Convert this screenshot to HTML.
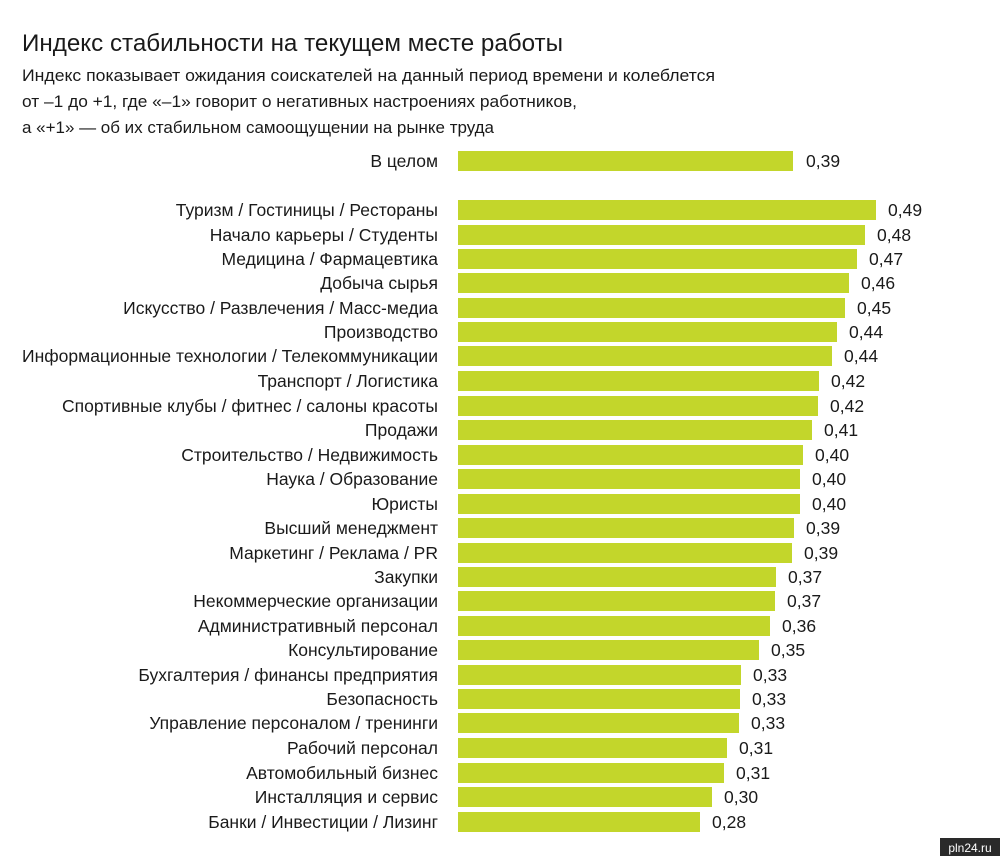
<!DOCTYPE html>
<html><head><meta charset="utf-8"><style>
body{margin:0;background:#fff;}
svg{display:block;font-family:"Liberation Sans","DejaVu Sans",sans-serif;}
.l{text-anchor:end;}
</style></head><body>
<svg width="1000" height="856" viewBox="0 0 1000 856">
<rect width="1000" height="856" fill="#fff"/>
<g fill="#1a1a1a">
<text x="22" y="51" font-size="24" textLength="541" lengthAdjust="spacingAndGlyphs">Индекс стабильности на текущем месте работы</text>
<text x="22" y="81" font-size="16.5" textLength="693" lengthAdjust="spacingAndGlyphs">Индекс показывает ожидания соискателей на данный период времени и колеблется</text>
<text x="22" y="107" font-size="16.5" textLength="555" lengthAdjust="spacingAndGlyphs">от –1 до +1, где «–1» говорит о негативных настроениях работников,</text>
<text x="22" y="133" font-size="16.5" textLength="472" lengthAdjust="spacingAndGlyphs">а «+1» — об их стабильном самоощущении на рынке труда</text>
</g>
<g fill="#c3d62b">
<rect x="458" y="151" width="335" height="20"/>
<rect x="458" y="200" width="418" height="20"/>
<rect x="458" y="225" width="407" height="20"/>
<rect x="458" y="249" width="399" height="20"/>
<rect x="458" y="273" width="391" height="20"/>
<rect x="458" y="298" width="387" height="20"/>
<rect x="458" y="322" width="379" height="20"/>
<rect x="458" y="346" width="374" height="20"/>
<rect x="458" y="371" width="361" height="20"/>
<rect x="458" y="396" width="360" height="20"/>
<rect x="458" y="420" width="354" height="20"/>
<rect x="458" y="445" width="345" height="20"/>
<rect x="458" y="469" width="342" height="20"/>
<rect x="458" y="494" width="342" height="20"/>
<rect x="458" y="518" width="336" height="20"/>
<rect x="458" y="543" width="334" height="20"/>
<rect x="458" y="567" width="318" height="20"/>
<rect x="458" y="591" width="317" height="20"/>
<rect x="458" y="616" width="312" height="20"/>
<rect x="458" y="640" width="301" height="20"/>
<rect x="458" y="665" width="283" height="20"/>
<rect x="458" y="689" width="282" height="20"/>
<rect x="458" y="713" width="281" height="20"/>
<rect x="458" y="738" width="269" height="20"/>
<rect x="458" y="763" width="266" height="20"/>
<rect x="458" y="787" width="254" height="20"/>
<rect x="458" y="812" width="242" height="20"/>
</g>
<g font-size="17.5" fill="#1a1a1a">
<text class="l" x="438" y="167">В целом</text>
<text class="l" x="438" y="216">Туризм / Гостиницы / Рестораны</text>
<text class="l" x="438" y="241">Начало карьеры / Студенты</text>
<text class="l" x="438" y="265">Медицина / Фармацевтика</text>
<text class="l" x="438" y="289">Добыча сырья</text>
<text class="l" x="438" y="314">Искусство / Развлечения / Масс-медиа</text>
<text class="l" x="438" y="338">Производство</text>
<text class="l" x="438" y="362" textLength="416" lengthAdjust="spacingAndGlyphs">Информационные технологии / Телекоммуникации</text>
<text class="l" x="438" y="387">Транспорт / Логистика</text>
<text class="l" x="438" y="412">Спортивные клубы / фитнес / салоны красоты</text>
<text class="l" x="438" y="436">Продажи</text>
<text class="l" x="438" y="461">Строительство / Недвижимость</text>
<text class="l" x="438" y="485">Наука / Образование</text>
<text class="l" x="438" y="510">Юристы</text>
<text class="l" x="438" y="534">Высший менеджмент</text>
<text class="l" x="438" y="559">Маркетинг / Реклама / PR</text>
<text class="l" x="438" y="583">Закупки</text>
<text class="l" x="438" y="607">Некоммерческие организации</text>
<text class="l" x="438" y="632">Административный персонал</text>
<text class="l" x="438" y="656">Консультирование</text>
<text class="l" x="438" y="681">Бухгалтерия / финансы предприятия</text>
<text class="l" x="438" y="705">Безопасность</text>
<text class="l" x="438" y="729">Управление персоналом / тренинги</text>
<text class="l" x="438" y="754">Рабочий персонал</text>
<text class="l" x="438" y="779">Автомобильный бизнес</text>
<text class="l" x="438" y="803">Инсталляция и сервис</text>
<text class="l" x="438" y="828">Банки / Инвестиции / Лизинг</text>
</g>
<g font-size="17.5" fill="#1a1a1a">
<text x="806" y="167">0,39</text>
<text x="888" y="216">0,49</text>
<text x="877" y="241">0,48</text>
<text x="869" y="265">0,47</text>
<text x="861" y="289">0,46</text>
<text x="857" y="314">0,45</text>
<text x="849" y="338">0,44</text>
<text x="844" y="362">0,44</text>
<text x="831" y="387">0,42</text>
<text x="830" y="412">0,42</text>
<text x="824" y="436">0,41</text>
<text x="815" y="461">0,40</text>
<text x="812" y="485">0,40</text>
<text x="812" y="510">0,40</text>
<text x="806" y="534">0,39</text>
<text x="804" y="559">0,39</text>
<text x="788" y="583">0,37</text>
<text x="787" y="607">0,37</text>
<text x="782" y="632">0,36</text>
<text x="771" y="656">0,35</text>
<text x="753" y="681">0,33</text>
<text x="752" y="705">0,33</text>
<text x="751" y="729">0,33</text>
<text x="739" y="754">0,31</text>
<text x="736" y="779">0,31</text>
<text x="724" y="803">0,30</text>
<text x="712" y="828">0,28</text>
</g>
<rect x="940" y="838" width="60" height="18" fill="#2a2a2a"/>
<text x="970" y="852" font-size="12" fill="#fff" text-anchor="middle">pln24.ru</text>
</svg>
</body></html>
